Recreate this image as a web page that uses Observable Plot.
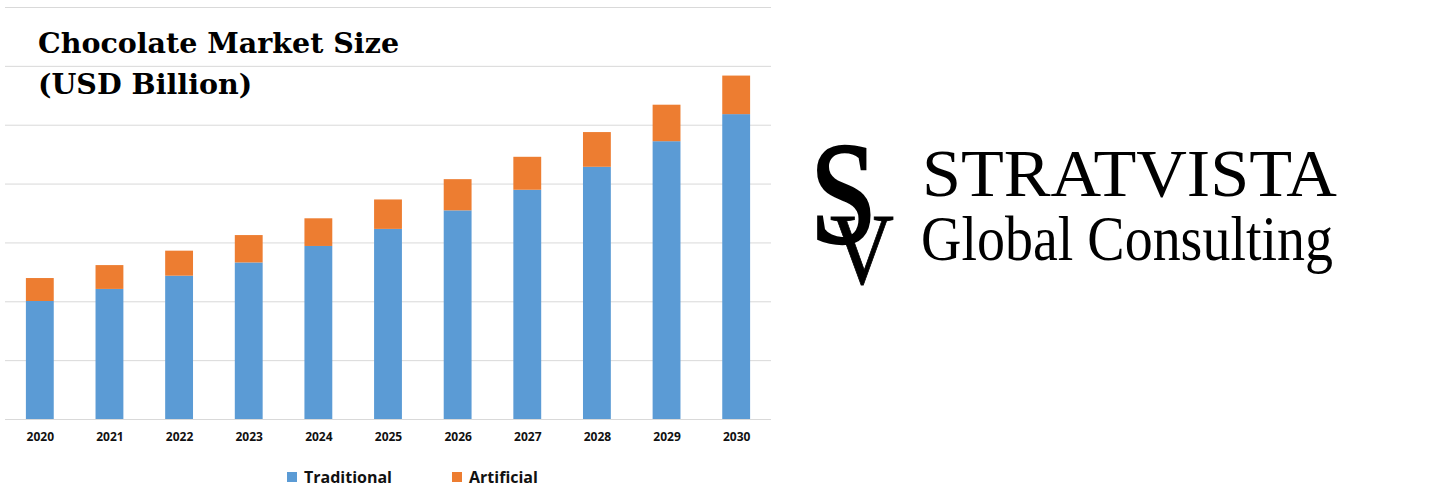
<!DOCTYPE html>
<html>
<head>
<meta charset="utf-8">
<script src="https://cdn.jsdelivr.net/npm/d3@7"></script>
<script src="https://cdn.jsdelivr.net/npm/@observablehq/plot@0.6"></script>
<style>
  html, body { margin: 0; padding: 0; background: #fff; }
  #wrap { position: relative; width: 1440px; height: 491px; overflow: hidden; background: #fff; }
  #chart { position: absolute; left: 0; top: 0; }
  #overlay { position: absolute; left: 0; top: 0; pointer-events: none; }
</style>
</head>
<body>
<div id="wrap">
  <div id="chart"></div>
  <svg id="overlay" width="1440" height="491" xmlns="http://www.w3.org/2000/svg"></svg>
</div>
<script>
// ---- data ----
const years = ["2020","2021","2022","2023","2024","2025","2026","2027","2028","2029","2030"];
const traditional = [40.1, 44.2, 48.7, 53.2, 58.8, 64.6, 70.9, 77.9, 85.7, 94.4, 103.6];
const artificial  = [7.8, 8.1, 8.5, 9.3, 9.4, 10.0, 10.6, 11.2, 11.8, 12.4, 13.1];
const seriesNames = ["Traditional", "Artificial"];
const seriesColors = ["#5b9bd5", "#ed7d31"];
const gridTicks = [20, 40, 60, 80, 100, 120, 140];
const titleLines = ["Chocolate Market Size", "(USD Billion)"];

const rows = [];
years.forEach((y, i) => {
  rows.push({year: y, series: "Traditional", value: traditional[i]});
  rows.push({year: y, series: "Artificial", value: artificial[i]});
});

const chart = Plot.plot({
  width: 776,
  height: 450,
  marginLeft: 5,
  marginRight: 5,
  marginTop: 7,
  marginBottom: 31,
  style: {fontFamily: "'Open Sans', sans-serif", background: "transparent"},
  x: {type: "band", domain: years, paddingInner: 0.6, paddingOuter: 0.3, round: false, label: null},
  y: {domain: [0, 140], axis: null},
  color: {domain: seriesNames, range: seriesColors},
  marks: [
    Plot.gridY(gridTicks, {stroke: "#d9d9d9", strokeOpacity: 1, strokeWidth: 1}),
    Plot.ruleY([0], {stroke: "#d9d9d9", strokeWidth: 1}),
    Plot.barY(rows, {x: "year", y: "value", fill: "series", order: seriesNames}),
    Plot.axisX({tickSize: 0, tickPadding: 13, fontSize: 12, fontWeight: "bold", fill: "#111", label: null})
  ]
});
document.getElementById("chart").appendChild(chart);

// ---- overlay text: title, legend, logo ----
const ov = d3.select("#overlay");
const title = ov.append("text")
  .attr("font-family", "'DejaVu Serif', serif")
  .attr("font-weight", "bold")
  .attr("font-size", 28.5)
  .attr("fill", "#000");
title.append("tspan").attr("x", 38).attr("y", 53).text(titleLines[0]);
title.append("tspan").attr("x", 38).attr("y", 94).text(titleLines[1]);

// legend
const legendX = [287, 452];
seriesNames.forEach((name, i) => {
  const g = ov.append("g");
  g.append("rect").attr("x", legendX[i]).attr("y", 472).attr("width", 10).attr("height", 10).attr("fill", seriesColors[i]);
  g.append("text").attr("x", legendX[i] + 17).attr("y", 483)
    .attr("font-family", "'Open Sans', sans-serif").attr("font-weight", "bold")
    .attr("font-size", 16).attr("fill", "#111").text(name);
});

// logo
const serif = "'Liberation Serif', 'Times New Roman', serif";
ov.append("text").attr("x", 810).attr("y", 243).attr("font-family", serif).attr("font-size", 147)
  .attr("stroke", "#000").attr("stroke-width", 2.5)
  .attr("textLength", 67).attr("lengthAdjust", "spacingAndGlyphs").attr("fill", "#000").text("S");
ov.append("text").attr("x", 830).attr("y", 284).attr("font-family", serif).attr("font-size", 102)
  .attr("stroke", "#000").attr("stroke-width", 0.8)
  .attr("textLength", 64).attr("lengthAdjust", "spacingAndGlyphs").attr("fill", "#000").text("V");
ov.append("text").attr("x", 922).attr("y", 196).attr("font-family", serif).attr("font-size", 68)
  .attr("textLength", 415).attr("lengthAdjust", "spacingAndGlyphs").attr("fill", "#000").text("STRATVISTA");
ov.append("text").attr("x", 921).attr("y", 260).attr("font-family", serif).attr("font-size", 64)
  .attr("textLength", 412).attr("lengthAdjust", "spacingAndGlyphs").attr("fill", "#000").text("Global Consulting");
</script>
</body>
</html>
